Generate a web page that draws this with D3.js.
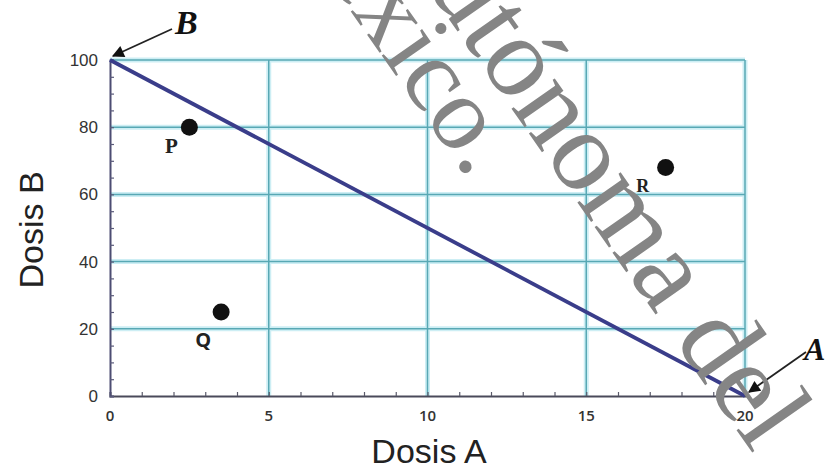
<!DOCTYPE html>
<html><head><meta charset="utf-8">
<script src="https://cdn.jsdelivr.net/npm/d3@7"></script>
<style>body{margin:0;background:#fff}svg{display:block}</style>
</head><body>
<svg id="c" width="825" height="471"></svg>
<script>
// ---- data ----
const xTicks = [0, 5, 10, 15, 20];
const yTicks = [0, 20, 40, 60, 80, 100];
const isoLine = [{a: 0, b: 100}, {a: 20, b: 0}];
const pointNames = ["P", "Q", "R"];
const pointA = [2.5, 3.5, 17.5];
const pointB = [80, 25, 68];
const axisTitles = ["Dosis A", "Dosis B"];
const watermark = ["Autónoma del", "México."];

const svg = d3.select("#c");
const W = 825, H = 471;
const m = {l: 110, r: 80, t: 60, b: 75};
const x = d3.scaleLinear().domain([0, 20]).range([m.l, W - m.r]);
const y = d3.scaleLinear().domain([0, 100]).range([H - m.b, m.t]);

// grid
const g = svg.append("g");
[ {c: "#cdeef4", w: 5}, {c: "#58a8b4", w: 1.5} ].forEach(s => {
  g.selectAll(null).data(xTicks.filter(d => d > 0)).enter().append("line")
    .attr("x1", d => x(d)).attr("x2", d => x(d)).attr("y1", y(0)).attr("y2", y(100))
    .attr("stroke", s.c).attr("stroke-width", s.w);
  g.selectAll(null).data(yTicks.filter(d => d > 0)).enter().append("line")
    .attr("x1", x(0)).attr("x2", x(20)).attr("y1", d => y(d)).attr("y2", d => y(d))
    .attr("stroke", s.c).attr("stroke-width", s.w);
});

// axes
const xAx = svg.append("g").attr("transform", `translate(0,${y(0)})`)
  .call(d3.axisBottom(x).tickValues(d3.range(0, 21, 1)).tickSize(-4).tickFormat(""));
xAx.select(".domain").attr("stroke", "#4a4a5a").attr("stroke-width", 2);
xAx.selectAll(".tick line").attr("stroke", "#5a5a6a").attr("stroke-width", 1.2);
const yAx = svg.append("g").attr("transform", `translate(${x(0)},0)`)
  .call(d3.axisLeft(y).tickValues(d3.range(0, 101, 5)).tickSize(-4).tickFormat(""));
yAx.select(".domain").attr("stroke", "#4d4d72").attr("stroke-width", 2);
yAx.selectAll(".tick line").attr("stroke", "#5a5a7a").attr("stroke-width", 1.2);

// tick labels
svg.append("g").selectAll("text").data(xTicks).enter().append("text")
  .attr("x", d => x(d)).attr("y", y(0) + 25).attr("text-anchor", "middle")
  .attr("font-family", "Open Sans, sans-serif").attr("font-weight", "600")
  .attr("font-size", 15).attr("fill", "#333").text(d => d);
svg.append("g").selectAll("text").data(yTicks).enter().append("text")
  .attr("x", x(0) - 12).attr("y", d => y(d) + 6).attr("text-anchor", "end")
  .attr("font-family", "Liberation Sans Narrow, Liberation Sans, sans-serif")
  .attr("font-size", 17).attr("fill", "#333")
  .text(d => d);

// axis titles
svg.append("text").attr("x", 429).attr("y", 463).attr("text-anchor", "middle")
  .attr("font-family", "Liberation Sans, Arial, sans-serif").attr("font-size", 34).attr("fill", "#222")
  .text(axisTitles[0]);
svg.append("text").attr("transform", `translate(43,230) rotate(-90)`)
  .attr("text-anchor", "middle")
  .attr("font-family", "Liberation Sans, Arial, sans-serif").attr("font-size", 34).attr("fill", "#222")
  .text(axisTitles[1]);

// iso line
svg.append("path").datum(isoLine)
  .attr("d", d3.line().x(d => x(d.a)).y(d => y(d.b)))
  .attr("stroke", "#3a3d8a").attr("stroke-width", 3.8).attr("fill", "none");

// points
const pts = pointNames.map((n, i) => ({n, a: pointA[i], b: pointB[i]}));
svg.append("g").selectAll("circle").data(pts).enter().append("circle")
  .attr("cx", d => x(d.a)).attr("cy", d => y(d.b)).attr("r", 8.5).attr("fill", "#111");
const lblOff = {P: [-18, 26], Q: [-18, 35], R: [-23, 24]};
const lblFont = {P: "Liberation Serif, serif", Q: "Open Sans, sans-serif", R: "Liberation Serif, serif"};
const lblSize = {P: 21, Q: 20, R: 18};
svg.append("g").selectAll("text").data(pts).enter().append("text")
  .attr("x", d => x(d.a) + lblOff[d.n][0]).attr("y", d => y(d.b) + lblOff[d.n][1])
  .attr("text-anchor", "middle").attr("font-weight", "bold")
  .attr("font-family", d => lblFont[d.n]).attr("font-size", d => lblSize[d.n]).attr("fill", "#222")
  .text(d => d.n);

// arrows
const defs = svg.append("defs");
defs.append("marker").attr("id", "ah").attr("viewBox", "0 0 10 10").attr("refX", 9).attr("refY", 5)
  .attr("markerWidth", 16).attr("markerHeight", 12).attr("markerUnits", "userSpaceOnUse")
  .attr("orient", "auto").append("path").attr("d", "M0,0 L10,5 L0,10 Z").attr("fill", "#111");
svg.append("line").attr("x1", 172).attr("y1", 29).attr("x2", x(0) + 3).attr("y2", y(100) - 4)
  .attr("stroke", "#222").attr("stroke-width", 1.8).attr("marker-end", "url(#ah)");
svg.append("text").attr("x", 175).attr("y", 34)
  .attr("font-family", "Liberation Serif, serif").attr("font-style", "italic").attr("font-weight", "bold")
  .attr("font-size", 34).attr("fill", "#111").text("B");
svg.append("line").attr("x1", 806).attr("y1", 352).attr("x2", x(20) + 4).attr("y2", y(0) - 4)
  .attr("stroke", "#222").attr("stroke-width", 1.8).attr("marker-end", "url(#ah)");
svg.append("text").attr("x", 804).attr("y", 360)
  .attr("font-family", "Liberation Serif, serif").attr("font-style", "italic").attr("font-weight", "bold")
  .attr("font-size", 32).attr("fill", "#111").text("A");

// watermark
const wm = svg.append("g").attr("fill", "#858585").attr("font-family", "Liberation Serif, serif");
wm.append("text").attr("font-size", 115).attr("transform", "translate(378,-82) rotate(55)").text(watermark[0]);
wm.append("text").attr("font-size", 105).attr("transform", "translate(270,-104) rotate(55)").text(watermark[1]);
</script>
</body></html>
